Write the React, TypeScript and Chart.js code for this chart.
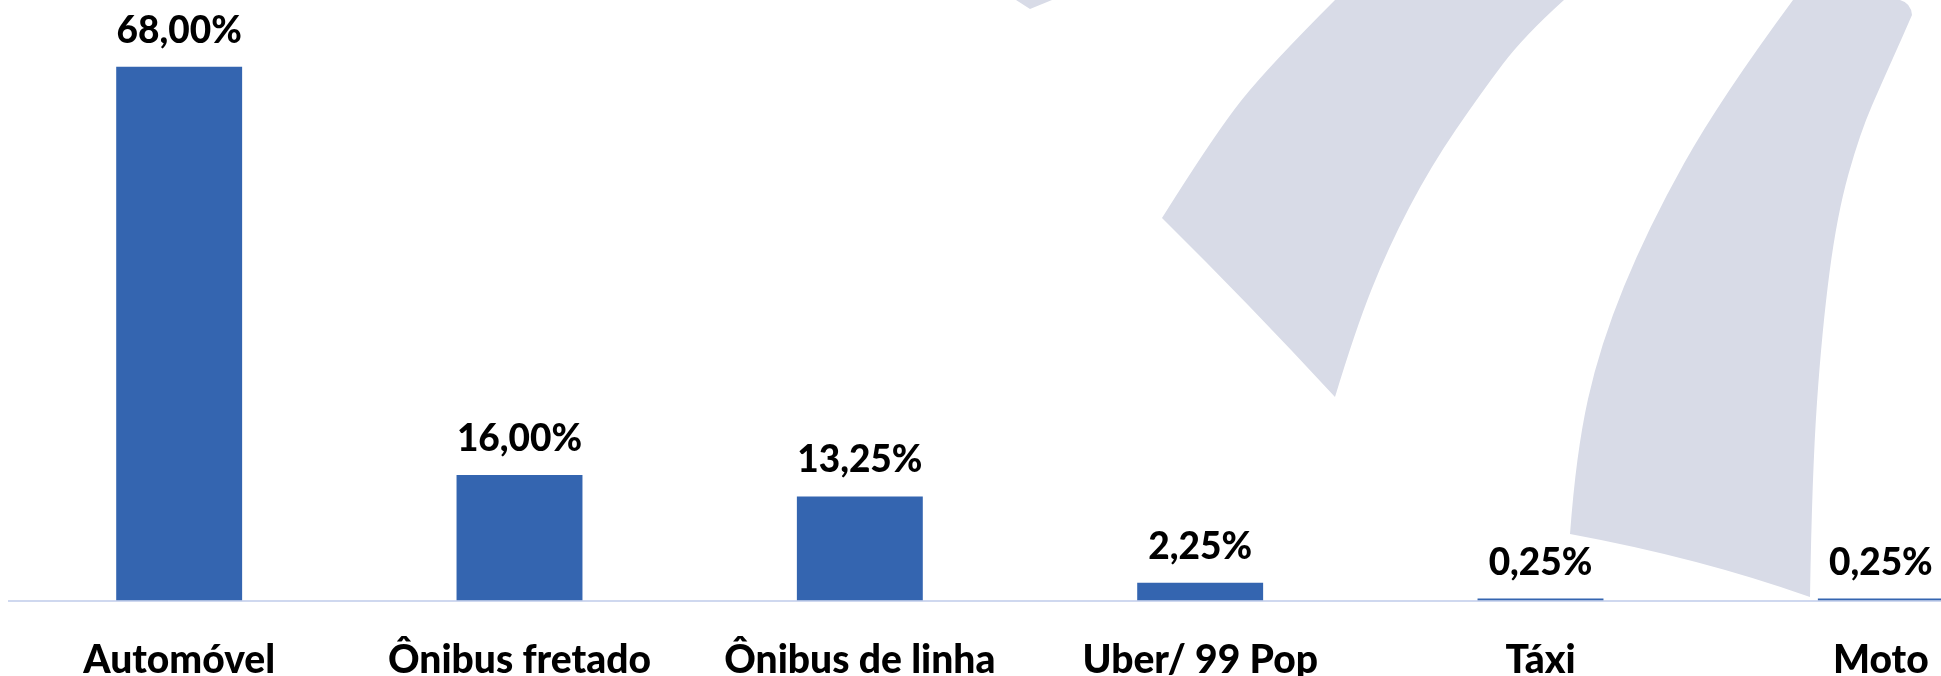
import React, { useEffect, useRef } from "react";
import { Chart, registerables } from "chart.js";

Chart.register(...registerables);

const categories: string[] = ["Automóvel", "Ônibus fretado", "Ônibus de linha", "Uber/ 99 Pop", "Táxi", "Moto"];
const shares: number[] = [68.0, 16.0, 13.25, 2.25, 0.25, 0.25];

const BAR_COLOR = "#3465b0";
const AXIS_COLOR = "#cfd8ef";
const WATERMARK = "#d8dbe7";
const FONT = "Lato, 'Open Sans', sans-serif";
const FONT_WEIGHT = "900";

const formatPct = (v: number) => v.toFixed(2).replace(".", ",") + "%";

// decorative background watermark (not data): each shape is a list of smooth edges
type Pt = [number, number];
const tipShape: Pt[][] = [[[1016, 0], [1052, 0]], [[1052, 0], [1030, 9]], [[1030, 9], [1016, 0]]];
const leftStripe: Pt[][] = [
  [[1335, 0], [1269, 66], [1216, 132], [1162, 218]],
  [[1162, 218], [1250, 305], [1335, 397]],
  [[1335, 397], [1355, 331], [1388, 248], [1431, 166], [1481, 93], [1524, 36], [1564, 0]],
];
const rightStripe: Pt[][] = [
  [[1793, 0], [1720, 99], [1648, 228], [1600, 345], [1576, 453], [1570, 534]],
  [[1570, 534], [1700, 558], [1810, 597]],
  [[1810, 597], [1812, 474], [1822, 330], [1837, 215], [1860, 133], [1884, 78], [1902, 38], [1912, 15]],
  [[1912, 15], [1911, 3], [1900, 0]],
];

function drawShape(ctx: CanvasRenderingContext2D, edges: Pt[][]) {
  ctx.beginPath();
  edges.forEach((pts, e) => {
    if (e === 0) ctx.moveTo(pts[0][0], pts[0][1]);
    else ctx.lineTo(pts[0][0], pts[0][1]);
    for (let i = 1; i < pts.length - 1; i++) {
      const last = i === pts.length - 2;
      const mx = last ? pts[i + 1][0] : (pts[i][0] + pts[i + 1][0]) / 2;
      const my = last ? pts[i + 1][1] : (pts[i][1] + pts[i + 1][1]) / 2;
      ctx.quadraticCurveTo(pts[i][0], pts[i][1], mx, my);
    }
    if (pts.length === 2) ctx.lineTo(pts[1][0], pts[1][1]);
  });
  ctx.closePath();
  ctx.fill();
}

const watermarkPlugin = {
  id: "watermark",
  beforeDraw(chart: any) {
    const ctx = chart.ctx;
    ctx.save();
    ctx.fillStyle = WATERMARK;
    [tipShape, leftStripe, rightStripe].forEach((s) => drawShape(ctx, s));
    ctx.restore();
  },
};

const valueLabelPlugin = {
  id: "valueLabels",
  afterDatasetsDraw(chart: any) {
    const ctx = chart.ctx;
    const meta = chart.getDatasetMeta(0);
    ctx.save();
    ctx.fillStyle = "#000000";
    ctx.font = `${FONT_WEIGHT} 37px ${FONT}`;
    ctx.textAlign = "center";
    ctx.textBaseline = "alphabetic";
    meta.data.forEach((bar: any, i: number) => {
      ctx.fillText(formatPct(shares[i]), bar.x, bar.y - 24);
    });
    ctx.restore();
  },
};

export default function App() {
  const ref = useRef<HTMLCanvasElement | null>(null);

  useEffect(() => {
    if (!ref.current) return;
    const chart = new Chart(ref.current, {
      type: "bar",
      data: {
        labels: categories,
        datasets: [
          {
            data: shares,
            backgroundColor: BAR_COLOR,
            borderWidth: 0,
            categoryPercentage: 1,
            barPercentage: 0.37,
          },
        ],
      },
      options: {
        responsive: false,
        animation: false,
        maintainAspectRatio: false,
        layout: { padding: { left: 9, right: 1, top: 0, bottom: 0 } },
        plugins: {
          legend: { display: false },
          tooltip: { enabled: false },
          title: { display: false },
        },
        scales: {
          x: {
            grid: { display: false },
            border: { display: true, color: AXIS_COLOR, width: 2 },
            ticks: {
              color: "#000000",
              font: { family: FONT, size: 39, weight: FONT_WEIGHT },
              padding: 29,
              maxRotation: 0,
              autoSkip: false,
            },
            afterFit: (s: any) => {
              s.height = 75.5;
            },
          },
          y: {
            display: false,
            min: 0,
            max: 76.5,
          },
        },
      },
      plugins: [watermarkPlugin, valueLabelPlugin],
    });
    return () => chart.destroy();
  }, []);

  return (
    <div
      style={{
        position: "fixed",
        left: 0,
        top: 0,
        width: 1941,
        height: 676,
        overflow: "hidden",
        background: "#ffffff",
      }}
    >
      <canvas ref={ref} width={2052} height={676} style={{ display: "block" }} />
    </div>
  );
}
